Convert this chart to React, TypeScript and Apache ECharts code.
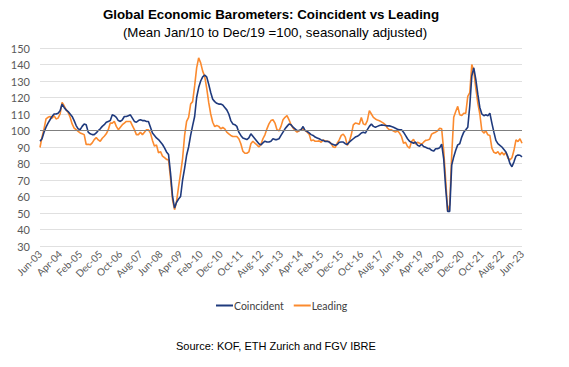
import React, { useEffect, useRef } from "react";
import * as echarts from "echarts";

const MONTHS = ["Jan", "Feb", "Mar", "Apr", "May", "Jun", "Jul", "Aug", "Sep", "Oct", "Nov", "Dec"];
const START_YEAR = 2003;
const START_MONTH = 5; // June

const coincident: number[] = [
  93.5, 95, 99, 102, 104.5, 106.5, 108.5, 110, 110, 110.5,
  112, 116, 114, 112.5, 111.5, 110, 108.5, 106, 103, 101,
  100.5, 102.5, 104, 103.5, 99, 98, 97.5, 97.5, 98.5, 100,
  101, 102.5, 103.5, 105, 105.5, 106, 109.5, 109, 108, 106,
  105.5, 106.5, 108.5, 108.5, 109, 109.5, 107.5, 105.5, 105, 106,
  106.5, 106, 106, 105.5, 105.5, 102, 98.5, 97, 95.5, 94.5,
  93, 91.5, 89.5, 87, 85.5, 74, 60, 53, 56.5, 58.5,
  60, 70, 77, 85, 90, 97, 103, 108.5, 120, 126,
  130, 132.5, 133.5, 132.5, 128, 123, 119, 117.5, 116.5, 116,
  116, 115.5, 114, 112.5, 110, 106, 104, 103.5, 102.5, 99,
  97, 95.5, 95, 94.5, 95.5, 98, 96.5, 95, 93.5, 92,
  91.3, 92.5, 93.5, 93, 93, 93.5, 95, 94.5, 94.5, 95,
  97, 99, 101, 102.5, 104, 103.5, 102, 101, 100, 100,
  100.5, 102.4, 100, 99.5, 98.5, 97.5, 97, 96, 95.5, 95,
  94.3, 94, 93.3, 93.5, 93, 92, 91.5, 91, 91.5, 92.9,
  93, 93, 92, 91.5, 93, 94, 95, 96, 96.5, 97.4,
  98.5, 99, 98.4, 100.5, 102.5, 104, 102.5, 102, 102.5, 103,
  103.4, 103.2, 103, 102.8, 102.8, 102.4, 102, 101.4, 100.8, 100.4,
  100.4, 99, 97, 95, 93.5, 92.9, 92.3, 93, 91, 90.5,
  91.7, 90.3, 89.8, 89.3, 89, 88, 87.5, 88.9, 89, 89.5,
  91.7, 83, 65, 51, 51, 79, 84, 88, 91.3, 92,
  96, 99, 100.4, 102, 115, 133, 138, 131, 122, 114,
  110, 109, 109.5, 109, 110.5, 104.5, 99, 94, 92, 91,
  90, 88.5, 87, 84, 80, 78, 81, 84.5, 85.2, 85,
  84,
];

const leading: number[] = [
  89.7, 96, 101, 107, 108, 108.5, 107.5, 109, 107, 107.5,
  110, 117, 115, 112.5, 111, 108, 104, 101.5, 100.5, 99.5,
  98.5, 98, 97.5, 91.5, 91.7, 91.3, 92.5, 94.5, 95.7, 94.3,
  93.5, 95.3, 96.5, 98, 100.5, 104.5, 104.5, 105.5, 102.5, 100.5,
  102, 103.5, 104.5, 105.5, 105.5, 105.5, 103, 100.5, 97.5, 97.5,
  99, 97.5, 99, 100.4, 100.4, 98.4, 94, 90.5, 91.3, 86.5,
  87.2, 84.5, 83.5, 82.5, 82.2, 71, 58, 52, 57, 66,
  74, 83, 97, 105.5, 108, 116, 117.5, 127, 138, 144,
  141, 136, 132.8, 125.7, 117, 110, 105, 102.4, 103, 102.5,
  101, 101.8, 101, 99, 98, 97, 96.4, 96.4, 96.4, 95,
  92, 87.5, 86.2, 86.2, 87, 92, 93.5, 92.3, 91.3, 90,
  91.5, 95, 97.4, 101, 104, 106, 106.5, 104.5, 100.4, 99.8,
  102.5, 106.5, 108, 109, 106.5, 103.4, 101.5, 100, 99, 99.8,
  100.6, 101, 100, 99, 97.8, 93.7, 94.3, 93.5, 93.5, 93.7,
  92.9, 94.3, 93.7, 93.5, 93.3, 92, 90, 89.7, 92.3, 94.3,
  97, 97.8, 96, 91, 93.3, 97.4, 103.4, 104.5, 104.2, 103.8,
  107.9, 104, 103.4, 106, 112, 110, 108, 107, 106.3, 105.9,
  105.2, 104.5, 103.4, 101.5, 100.4, 100.4, 99.7, 99, 99.8, 98.5,
  96.4, 92.3, 92.9, 90.3, 89.3, 93.3, 94.7, 91.7, 92.9, 92.3,
  91.7, 92.9, 94, 94.3, 94.7, 97.8, 98.5, 99, 99.8, 101.4,
  101, 88, 70, 51, 55, 85, 108, 111.5, 114.6, 109.5,
  109.1, 110.5, 110.5, 120.7, 123, 140, 136, 125.7, 116.6, 110,
  100, 98.4, 99.8, 97.4, 97, 89.3, 86.8, 86.2, 87.2, 85.2,
  86.8, 85.2, 86.8, 83.2, 82.2, 83.5, 88, 94.3, 93.3, 95,
  92.3,
];

const categories: string[] = coincident.map((_, i) => {
  const m = START_MONTH + i;
  const y = START_YEAR + Math.floor(m / 12);
  return MONTHS[m % 12] + "-" + String(y % 100).padStart(2, "0");
});

const TITLE = "Global Economic Barometers: Coincident vs Leading";
const SUBTITLE = "(Mean Jan/10 to Dec/19 =100, seasonally adjusted)";
const SOURCE = "Source: KOF, ETH Zurich and FGV IBRE";

export default function App() {
  const ref = useRef<HTMLDivElement>(null);
  useEffect(() => {
    if (!ref.current) return;
    const chart = echarts.init(ref.current, undefined, { renderer: "svg" });
    chart.setOption({
      animation: false,
      backgroundColor: "#ffffff",
      grid: { left: 40, right: 47, top: 48, bottom: 121, containLabel: false },
      graphic: [
        {
          type: "text",
          x: 271,
          y: 14,
          style: {
            text: TITLE,
            font: "bold 13.3px 'Liberation Sans', Arial, sans-serif",
            fill: "#000",
            textAlign: "center",
            textVerticalAlign: "middle",
          },
        },
        {
          type: "text",
          x: 275,
          y: 32,
          style: {
            text: SUBTITLE,
            font: "13.3px 'Liberation Sans', Arial, sans-serif",
            fill: "#000",
            textAlign: "center",
            textVerticalAlign: "middle",
          },
        },
        {
          type: "text",
          x: 176,
          y: 346,
          style: {
            text: SOURCE,
            font: "11px 'Liberation Sans', Arial, sans-serif",
            fill: "#000",
            textAlign: "left",
            textVerticalAlign: "middle",
          },
        },
      ],
      legend: {
        top: 295,
        left: 211,
        icon: "rect",
        itemWidth: 17,
        itemHeight: 2,
        itemGap: 10,
        textStyle: { fontFamily: "Lato", fontSize: 10.5, color: "#404040", padding: [0, 0, 0, -4] },
        data: ["Coincident", "Leading"],
      },
      xAxis: {
        type: "category",
        data: categories,
        boundaryGap: false,
        axisLine: { show: false },
        axisTick: { show: false },
        axisLabel: {
          interval: 9,
          rotate: 45,
          fontFamily: "Lato",
          fontSize: 10,
          color: "#595959",
          margin: 6,
        },
        splitLine: { show: false },
      },
      yAxis: {
        type: "value",
        min: 30,
        max: 150,
        interval: 10,
        axisLine: { show: false },
        axisTick: { show: false },
        axisLabel: { fontFamily: "Lato", fontSize: 11, color: "#595959", margin: 10 },
        splitLine: { lineStyle: { color: "#e0e0e0", width: 1 } },
      },
      series: [
        {
          name: "Coincident",
          type: "line",
          data: coincident,
          symbol: "none",
          lineStyle: { color: "#1f3a7d", width: 1.6 },
          itemStyle: { color: "#1f3a7d" },
          z: 3,
          markLine: {
            silent: true,
            symbol: "none",
            label: { show: false },
            lineStyle: { color: "#7f7f7f", width: 1, type: "solid" },
            data: [{ yAxis: 100 }],
          },
        },
        {
          name: "Leading",
          type: "line",
          data: leading,
          symbol: "none",
          lineStyle: { color: "#fb8a2e", width: 1.6 },
          itemStyle: { color: "#fb8a2e" },
          z: 2,
        },
      ],
    });
    return () => chart.dispose();
  }, []);
  return (
    <div
      ref={ref}
      style={{ position: "fixed", left: 0, top: 0, width: 569, height: 367, background: "#fff" }}
    />
  );
}
